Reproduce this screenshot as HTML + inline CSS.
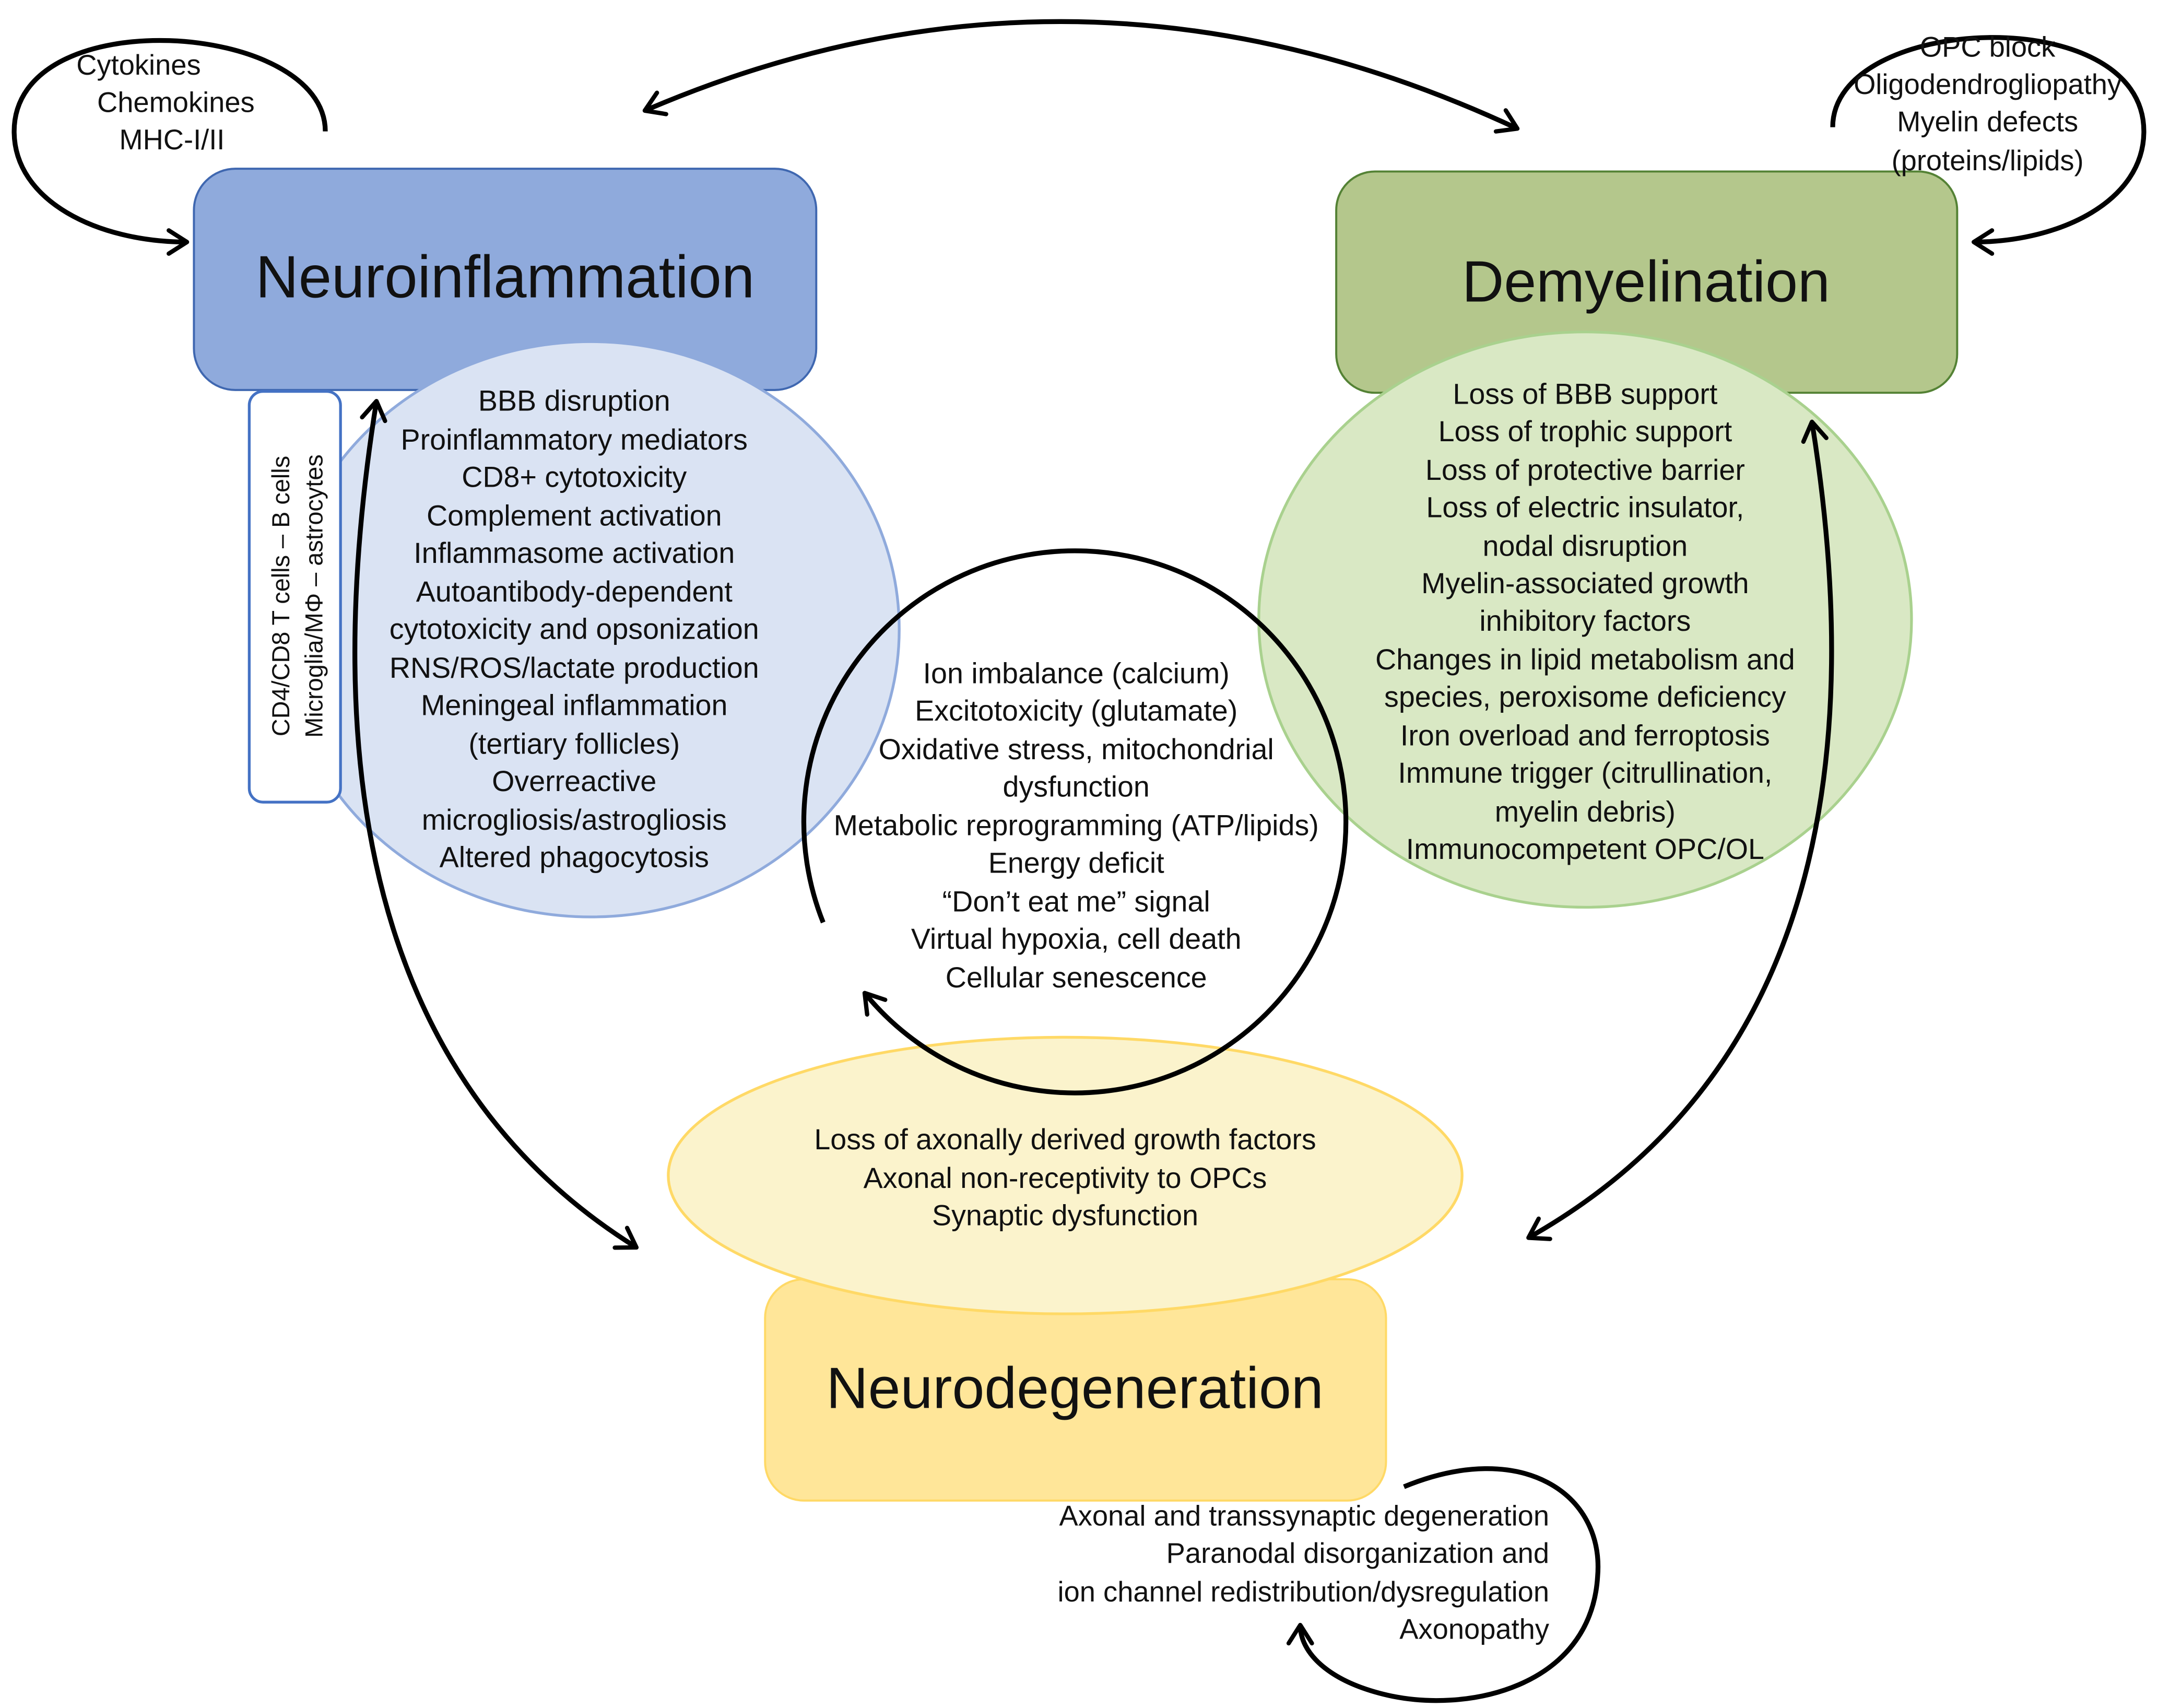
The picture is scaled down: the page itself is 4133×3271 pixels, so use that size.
<!DOCTYPE html>
<html><head><meta charset="utf-8">
<style>
html,body{margin:0;padding:0;background:#fff;}
svg{display:block;}
text{font-family:"Liberation Sans",sans-serif;fill:#111;}
</style></head>
<body>
<svg width="4133" height="3271" viewBox="0 0 1560 1235" xmlns="http://www.w3.org/2000/svg">
<defs>
<marker id="a" viewBox="0 0 20 20" refX="16" refY="10" markerWidth="24" markerHeight="24" markerUnits="userSpaceOnUse" orient="auto-start-reverse">
<polyline points="5,3 16,10 5,17" fill="none" stroke="#000" stroke-width="2.6" stroke-linecap="round" stroke-linejoin="round"/>
</marker>
</defs>
<rect width="1560" height="1235" fill="#fff"/>

<!-- Neuroinflammation -->
<rect x="140" y="122" width="450" height="160" rx="30" fill="#8faadc" stroke="#3f67b0" stroke-width="1.5"/>
<text x="365" y="215" font-size="43" text-anchor="middle">Neuroinflammation</text>
<ellipse cx="427" cy="455" rx="223" ry="208" fill="#dae3f3" stroke="#8faadc" stroke-width="2"/>
<rect x="180" y="283" width="66" height="297" rx="10" fill="#fff" stroke="#4472c4" stroke-width="2"/>
<text transform="translate(209,431) rotate(-90)" font-size="17.7" text-anchor="middle">CD4/CD8 T cells – B cells</text>
<text transform="translate(233,431) rotate(-90)" font-size="17.7" text-anchor="middle">Microglia/MΦ – astrocytes</text>
<g font-size="21" text-anchor="middle">
<text x="415" y="297">BBB disruption</text>
<text x="415" y="325">Proinflammatory mediators</text>
<text x="415" y="352">CD8+ cytotoxicity</text>
<text x="415" y="380">Complement activation</text>
<text x="415" y="407">Inflammasome activation</text>
<text x="415" y="435">Autoantibody-dependent</text>
<text x="415" y="462">cytotoxicity and opsonization</text>
<text x="415" y="490">RNS/ROS/lactate production</text>
<text x="415" y="517">Meningeal inflammation</text>
<text x="415" y="545">(tertiary follicles)</text>
<text x="415" y="572">Overreactive</text>
<text x="415" y="600">microgliosis/astrogliosis</text>
<text x="415" y="627">Altered phagocytosis</text>
</g>

<!-- Demyelination -->
<rect x="966" y="124" width="449" height="160" rx="28" fill="#b4c78c" stroke="#548235" stroke-width="1.5"/>
<text x="1190" y="218" font-size="42" text-anchor="middle">Demyelination</text>
<ellipse cx="1146" cy="448" rx="236" ry="208" fill="#d9e8c4" stroke="#a9d18e" stroke-width="2"/>
<g font-size="21" text-anchor="middle">
<text x="1146" y="292">Loss of BBB support</text>
<text x="1146" y="319">Loss of trophic support</text>
<text x="1146" y="347">Loss of protective barrier</text>
<text x="1146" y="374">Loss of electric insulator,</text>
<text x="1146" y="402">nodal disruption</text>
<text x="1146" y="429">Myelin-associated growth</text>
<text x="1146" y="456">inhibitory factors</text>
<text x="1146" y="484">Changes in lipid metabolism and</text>
<text x="1146" y="511">species, peroxisome deficiency</text>
<text x="1146" y="539">Iron overload and ferroptosis</text>
<text x="1146" y="566">Immune trigger (citrullination,</text>
<text x="1146" y="594">myelin debris)</text>
<text x="1146" y="621">Immunocompetent OPC/OL</text>
</g>

<!-- Neurodegeneration -->
<rect x="553" y="925" width="449" height="160" rx="28" fill="#ffe699" stroke="#ffd966" stroke-width="1.5"/>
<text x="777" y="1018" font-size="42" text-anchor="middle">Neurodegeneration</text>
<ellipse cx="770" cy="850" rx="287" ry="100" fill="#fbf3cc" stroke="#ffd966" stroke-width="2"/>
<g font-size="21" text-anchor="middle">
<text x="770" y="831">Loss of axonally derived growth factors</text>
<text x="770" y="859">Axonal non-receptivity to OPCs</text>
<text x="770" y="886">Synaptic dysfunction</text>
</g>

<!-- Center circle -->
<path d="M595,667 A196,196 0 1 1 625,718" fill="none" stroke="#000" stroke-width="3.5" marker-end="url(#a)"/>
<g font-size="21" text-anchor="middle">
<text x="778" y="494">Ion imbalance (calcium)</text>
<text x="778" y="521">Excitotoxicity (glutamate)</text>
<text x="778" y="549">Oxidative stress, mitochondrial</text>
<text x="778" y="576">dysfunction</text>
<text x="778" y="604">Metabolic reprogramming (ATP/lipids)</text>
<text x="778" y="631">Energy deficit</text>
<text x="778" y="659">“Don’t eat me” signal</text>
<text x="778" y="686">Virtual hypoxia, cell death</text>
<text x="778" y="714">Cellular senescence</text>
</g>

<!-- Double arrows -->
<path d="M466,80 Q780,-55 1097,93" fill="none" stroke="#000" stroke-width="3.5" marker-start="url(#a)" marker-end="url(#a)"/>
<path d="M272,290 Q200,740 460,902" fill="none" stroke="#000" stroke-width="3.5" marker-start="url(#a)" marker-end="url(#a)"/>
<path d="M1310,305 Q1380,740 1105,895" fill="none" stroke="#000" stroke-width="3.5" marker-start="url(#a)" marker-end="url(#a)"/>

<!-- Self loops -->
<path d="M235,95 C235,15 10,0 10,95 C10,145 70,175 135,175" fill="none" stroke="#000" stroke-width="3.5" marker-end="url(#a)"/>
<g font-size="20.5">
<text x="55" y="54">Cytokines</text>
<text x="70" y="81">Chemokines</text>
<text x="86" y="108">MHC-I/II</text>
</g>
<path d="M1325,92 C1325,10 1550,0 1550,95 C1550,145 1490,175 1427,175" fill="none" stroke="#000" stroke-width="3.5" marker-end="url(#a)"/>
<g font-size="20.5" text-anchor="middle">
<text x="1437" y="41">OPC block</text>
<text x="1437" y="68">Oligodendrogliopathy</text>
<text x="1437" y="95">Myelin defects</text>
<text x="1437" y="123">(proteins/lipids)</text>
</g>
<path d="M1015,1075 C1100,1040 1160,1080 1155,1140 C1150,1220 1060,1240 1000,1225 C960,1215 940,1195 940,1175" fill="none" stroke="#000" stroke-width="3.5" marker-end="url(#a)"/>
<g font-size="20.5" text-anchor="end">
<text x="1120" y="1103">Axonal and transsynaptic degeneration</text>
<text x="1120" y="1130">Paranodal disorganization and</text>
<text x="1120" y="1158">ion channel redistribution/dysregulation</text>
<text x="1120" y="1185">Axonopathy</text>
</g>
</svg>
</body></html>
